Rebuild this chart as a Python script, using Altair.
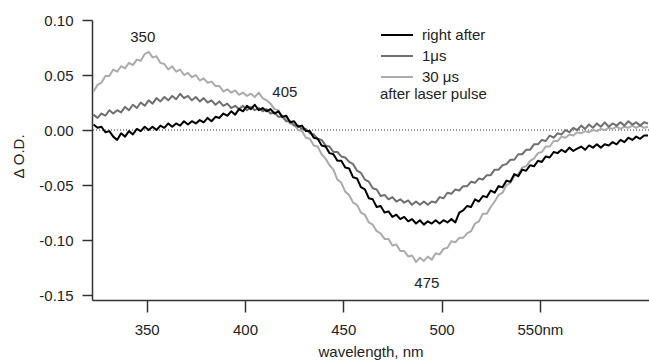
import altair as alt
import pandas as pd

wavelength = list(range(323, 606, 2))

# Delta O.D. in units of 1e-3 (mOD)
right_after = [5, 2, 3, -2, -1, -6, -9, -3, -6, -1, -4, 1, -1, 3, 0, 3, 0, 4, 2, 6,
               3, 6, 4, 8, 5, 8, 6, 9, 7, 11, 8, 12, 11, 15, 13, 17, 14, 19, 17, 22,
               19, 23, 18, 20, 17, 19, 15, 17, 12, 13, 7, 8, 3, 4, -1, -1, -7, -8, -14, -15,
               -21, -22, -28, -28, -34, -35, -43, -44, -52, -54, -62, -63, -70, -69, -75, -74, -79, -77, -81, -79,
               -83, -81, -85, -82, -86, -83, -85, -82, -85, -82, -84, -81, -84, -75, -73, -69, -70, -63, -65, -60,
               -61, -55, -57, -51, -52, -46, -47, -40, -42, -36, -37, -32, -33, -28, -29, -24, -25, -20, -21, -18,
               -20, -16, -19, -17, -15, -18, -14, -16, -13, -16, -13, -14, -11, -13, -9, -11, -7, -9, -6, -8,
               -5, -5]
one_us = [14, 11, 15, 13, 18, 15, 18, 16, 21, 18, 23, 20, 25, 22, 27, 24, 29, 26, 30, 27,
          31, 28, 33, 29, 31, 27, 30, 26, 29, 25, 27, 23, 26, 22, 24, 20, 22, 19, 22, 18,
          21, 18, 20, 17, 19, 15, 16, 12, 12, 8, 8, 4, 4, 1, 1, -3, -4, -8, -9, -14,
          -15, -20, -20, -24, -25, -29, -31, -37, -39, -45, -47, -53, -54, -60, -59, -63, -61, -65, -63, -66,
          -64, -68, -65, -68, -65, -68, -65, -66, -61, -62, -57, -58, -54, -55, -51, -51, -47, -48, -44, -45,
          -41, -41, -36, -36, -32, -31, -27, -27, -22, -22, -18, -18, -13, -13, -9, -10, -5, -7, -3, -4,
          0, -2, 2, 0, 4, 1, 5, 2, 6, 3, 7, 3, 6, 4, 7, 4, 8, 5, 7, 4,
          7, 6]
thirty_us = [35, 41, 43, 49, 49, 55, 53, 58, 56, 61, 59, 64, 63, 69, 71, 66, 67, 61, 60, 55,
             58, 53, 55, 50, 52, 48, 50, 45, 47, 43, 44, 40, 40, 35, 37, 34, 36, 32, 34, 31,
             33, 30, 34, 29, 27, 24, 19, 18, 12, 11, 6, 5, 0, -1, -7, -8, -14, -15, -22, -26,
             -32, -36, -45, -48, -56, -59, -66, -68, -75, -77, -84, -86, -92, -94, -99, -99, -105, -104, -110, -110,
             -115, -114, -120, -116, -119, -115, -118, -112, -113, -108, -107, -101, -102, -98, -98, -94, -92, -85, -83, -76,
             -76, -70, -65, -59, -57, -50, -48, -42, -40, -34, -33, -28, -26, -21, -20, -15, -15, -10, -10, -6,
             -7, -4, -5, -2, -3, -1, -2, 0, -1, 1, 0, 2, 1, 3, 1, 3, 2, 4, 2, 4,
             2, 3]

series_names = ["right after", "1\u03bcs", "30 \u03bcs"]
series_colors = ["#000000", "#6f6f6f", "#ababab"]

ann_text = ["350", "405", "475"]
ann_x = [348.0, 420.3, 492.5]
ann_y = [0.0845, 0.0345, -0.1395]

y_ticks = [-0.15, -0.10, -0.05, 0.00, 0.05, 0.10]
x_ticks = [350, 400, 450, 500, 550]

rows = []
# draw order: light gray first, black last (on top)
for name, vals in [(series_names[2], thirty_us), (series_names[1], one_us), (series_names[0], right_after)]:
    for w, v in zip(wavelength, vals):
        rows.append({"wl": w, "od": v / 1000.0, "series": name})
df = pd.DataFrame(rows)

ann = pd.DataFrame({"t": ann_text, "x": ann_x, "y": ann_y})

FONT = "Liberation Sans"
xscale = alt.Scale(domain=[322.2, 605.5], nice=False, zero=False)
yscale = alt.Scale(domain=[-0.1545, 0.10], nice=False, zero=False)

lines = alt.Chart(df).mark_line(strokeWidth=2, clip=True, strokeJoin="round").encode(
    x=alt.X("wl:Q", scale=xscale,
            axis=alt.Axis(values=x_ticks, title="wavelength, nm", grid=False,
                          labelExpr="datum.value == 550 ? '550nm' : datum.label",
                          tickSize=12, labelPadding=10, titleY=56, titleBaseline="alphabetic")),
    y=alt.Y("od:Q", scale=yscale,
            axis=alt.Axis(values=y_ticks, format=".2f", title="\u0394 O.D.", grid=False,
                          labelExpr="replace(datum.label, '\u2212', '-')",
                          tickSize=10, labelPadding=9, titleX=-74, titleY=136,
                          titleAngle=-90, titleAlign="center", titleBaseline="middle")),
    color=alt.Color("series:N",
                    scale=alt.Scale(domain=series_names, range=series_colors),
                    legend=alt.Legend(orient="none", legendX=288, legendY=6,
                                      title="after laser pulse", titleOrient="bottom",
                                      titleAnchor="start", titleFontWeight="normal",
                                      titleFont=FONT, titleFontSize=15, titleColor="#222",
                                      titlePadding=2,
                                      labelFont=FONT, labelFontSize=15, labelColor="#222",
                                      symbolType="M-1,0H3", symbolSize=256, symbolStrokeWidth=2,
                                      labelOffset=24, rowPadding=4, padding=0)),
    detail="series:N",
)

zero = alt.Chart(pd.DataFrame({"v": [0.0]})).mark_rule(
    color="#333333", strokeWidth=1, strokeDash=[1, 2]).encode(y=alt.Y("v:Q", scale=yscale))

labels = alt.Chart(ann).mark_text(font=FONT, fontSize=15, color="#222", baseline="middle").encode(
    x=alt.X("x:Q", scale=xscale), y=alt.Y("y:Q", scale=yscale), text="t:N")

chart = alt.layer(zero, lines, labels).properties(
    width=557, height=280,
    autosize=alt.AutoSizeParams(type="none"),
    padding={"left": 92, "top": 20, "right": 0, "bottom": 60},
).configure_view(stroke=None).configure_axis(
    labelFont=FONT, labelFontSize=15, labelColor="#222",
    titleFont=FONT, titleFontSize=15, titleColor="#222", titleFontWeight="normal",
    domainColor="#333", domainWidth=1.5, tickColor="#333", tickWidth=1.5,
)

chart.save("out.html", embed_options={"renderer": "svg", "actions": False})
